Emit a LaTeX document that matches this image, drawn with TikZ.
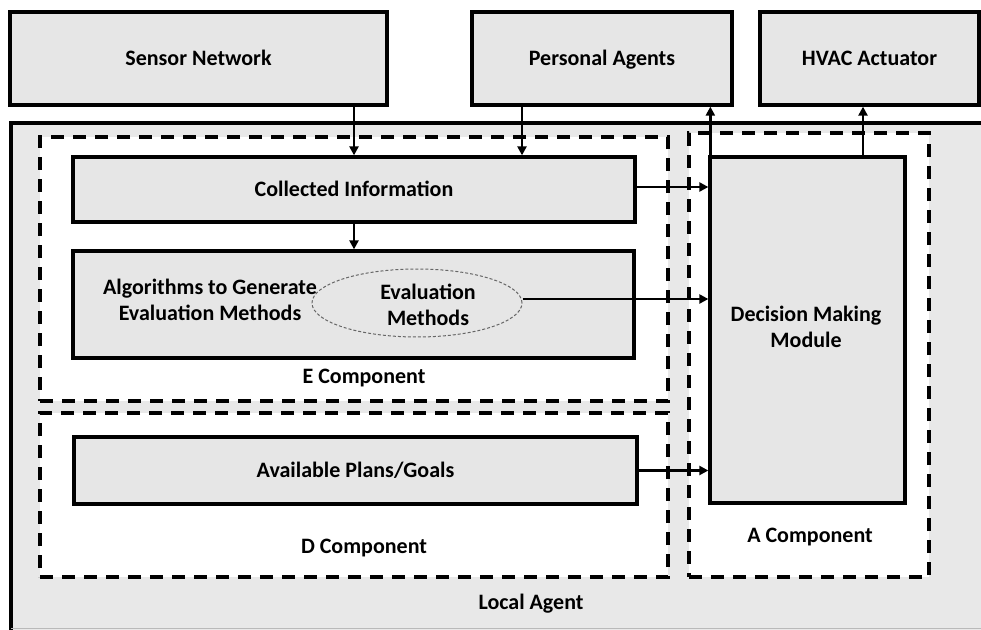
\documentclass[tikz,border=0pt]{standalone}
\usepackage{fontspec}
\setmainfont{Carlito}
\usetikzlibrary{arrows.meta,shapes.geometric,calc}
\definecolor{boxgray}{HTML}{E6E6E6}
\definecolor{bggray}{HTML}{E8E8E8}
\begin{document}
\begin{tikzpicture}[x=1pt,y=-1pt,
  txt/.style={font=\bfseries\fontsize{22}{26.5}\selectfont, align=center, inner sep=0pt},
  box/.style={txt, draw, line width=3.3pt, fill=boxgray, text height=17pt, text depth=4pt},
  comp/.style={draw, line width=3.3pt, dash pattern=on 13pt off 9pt, fill=white, inner sep=0pt},
  arr/.style={line width=2.4pt, -{Triangle[length=9pt,width=9pt]}},
  ell/.style={ellipse, draw=gray!80!black, line width=1pt, dash pattern=on 3pt off 2pt, inner sep=0pt}
]
\useasboundingbox (0,0) rectangle (981,629);
\begin{scope}
\clip (0,0) rectangle (981,629);
% Local Agent background
\fill[bggray] (11,123) rectangle (990,640);
\draw[line width=3.5pt] (11,640) -- (11,123) -- (990,123);
\draw[gray!55, line width=0.8pt] (11,628) -- (990,628);
\end{scope}

% top boxes
\node[box, minimum width=377pt, minimum height=93pt] (sensor) at (198.5,58.5) {Sensor Network};
\node[box, minimum width=260pt, minimum height=93pt] (personal) at (602,58.5) {Personal Agents};
\node[box, minimum width=219pt, minimum height=93pt] (hvac) at (869.5,58.5) {HVAC Actuator};

% component containers
\node[comp, minimum width=628pt, minimum height=264pt] (ecomp) at (354,269) {};
\node[comp, minimum width=628pt, minimum height=164pt] (dcomp) at (354,495) {};
\node[comp, minimum width=240pt, minimum height=444pt] (acomp) at (809,355) {};

% inner boxes
\node[box, minimum width=562pt, minimum height=65pt] (collected) at (354,189.5) {Collected Information};
\node[box, minimum width=561pt, minimum height=107pt] (algo) at (353.5,304.5) {};
\node[txt] (algotext) at (210,300) {Algorithms to Generate\\Evaluation Methods};
\node[ell, minimum width=210pt, minimum height=68pt] (evalm) at (417,303) {};
\node[txt] (evaltext) at (428,305) {Evaluation\\Methods};
\node[box, minimum width=563pt, minimum height=67pt] (plans) at (355.5,470.5) {Available Plans/Goals};
\node[box, minimum width=195pt, minimum height=346pt] (dmm) at (807.5,330) {};
\node[txt] (dmmtext) at (806,327) {Decision Making\\Module};

% labels
\node[txt] (elabel) at (364,378) {E Component};
\node[txt] (dlabel) at (364,548) {D Component};
\node[txt] (alabel) at (810,537) {A Component};
\node[txt] (llabel) at (531,604) {Local Agent};

% connectors
\draw[arr] (sensor.south -| collected.north) -- (collected.north);
\draw[arr] ([xshift=-80pt]personal.south) -- ([xshift=-80pt]personal.south |- collected.north);
\draw[arr] (collected.south) -- (collected.south |- algo.north);
\draw[arr] ([yshift=2.5pt]collected.east) -- ([yshift=2.5pt]collected.east -| dmm.west);
\draw[arr] ([yshift=4pt]evalm.east) -- ([yshift=4pt]evalm.east -| dmm.west);
\draw[arr] (plans.east) -- (plans.east -| dmm.west);
\draw[arr] ([xshift=2pt]dmm.north west) -- ([xshift=2pt]dmm.north west |- personal.south);
\draw[arr] ([xshift=55.5pt]dmm.north) -- ([xshift=55.5pt]dmm.north |- hvac.south);
\end{tikzpicture}
\end{document}
